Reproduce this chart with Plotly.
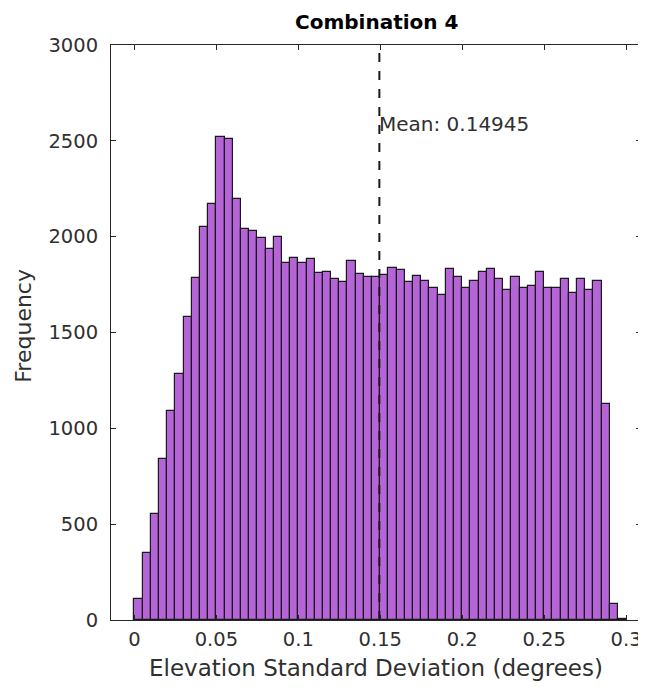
import numpy as np
import plotly.graph_objects as go

# ---- data ----
bin_width = 0.005
bin_left = np.round(np.arange(60) * bin_width, 3)
counts = [111, 351, 555, 840, 1092, 1285, 1579, 1783, 2049, 2170,
          2518, 2510, 2195, 2038, 2029, 1991, 1936, 2000, 1861, 1890,
          1861, 1882, 1809, 1816, 1779, 1762, 1873, 1807, 1790, 1788,
          1798, 1835, 1826, 1762, 1796, 1770, 1734, 1696, 1833, 1788,
          1734, 1770, 1816, 1833, 1779, 1723, 1788, 1734, 1743, 1816,
          1734, 1734, 1779, 1704, 1779, 1723, 1770, 1125, 83, 5]
mean_value = 0.14945
x_ticks = [0, 0.05, 0.1, 0.15, 0.2, 0.25, 0.3]
x_tick_labels = ["0", "0.05", "0.1", "0.15", "0.2", "0.25", "0.3"]
y_ticks = [0, 500, 1000, 1500, 2000, 2500, 3000]
y_tick_labels = ["0", "500", "1000", "1500", "2000", "2500", "3000"]
title_text = "Combination 4"
x_title = "Elevation Standard Deviation (degrees)"
y_title = "Frequency"

FONT = "DejaVu Sans, Liberation Sans, Arial, sans-serif"
AX = "#262626"
TXT = "#303030"

fig = go.Figure()
fig.add_trace(go.Bar(
    x=bin_left + bin_width / 2, y=counts, width=bin_width,
    marker=dict(color="#B565D8", line=dict(color="#1a1a1a", width=1.2)),
    showlegend=False, hoverinfo="x+y",
))

fig.add_shape(type="line", x0=mean_value, x1=mean_value, y0=0, y1=3000,
              xref="x", yref="y",
              line=dict(color="#1a1a1a", width=2, dash="dash"))
fig.add_annotation(x=mean_value, y=2590, xref="x", yref="y",
                   text=f"Mean: {mean_value}", showarrow=False,
                   xanchor="left", yanchor="middle", xshift=-2,
                   font=dict(family=FONT, size=20, color=TXT))

# axis titles and chart title placed as text
fig.add_annotation(x=0.5, y=-0.0835, xref="paper", yref="paper",
                   text=x_title, showarrow=False, xanchor="center", yanchor="middle",
                   font=dict(family=FONT, size=23, color=TXT))
fig.add_annotation(x=-0.164, y=0.512, xref="paper", yref="paper",
                   text=y_title, showarrow=False, textangle=-90,
                   xanchor="center", yanchor="middle",
                   font=dict(family=FONT, size=22, color=TXT))
fig.add_annotation(x=0.5, y=1.04, xref="paper", yref="paper",
                   text=f"<b>{title_text}</b>", showarrow=False,
                   xanchor="center", yanchor="middle",
                   font=dict(family=FONT, size=20, color="black"))

# page body adds an 8px offset, so the figure is sized 8px smaller
fig.update_layout(
    width=638, height=689,
    margin=dict(l=103, r=5, t=37, b=77),
    paper_bgcolor="white", plot_bgcolor="white",
    bargap=0,
    font=dict(family=FONT, color=TXT),
)
fig.update_xaxes(
    range=[-0.0143, 0.3091], tickvals=x_ticks, ticktext=x_tick_labels,
    ticks="inside", ticklen=5, tickcolor=AX, tickwidth=1,
    showline=True, linecolor=AX, linewidth=1, mirror="allticks",
    showgrid=False, zeroline=False, automargin=False,
    tickfont=dict(family=FONT, size=19.5, color=TXT), ticklabelstandoff=2,
)
fig.update_yaxes(
    range=[0, 3000], tickvals=y_ticks, ticktext=y_tick_labels,
    ticks="inside", ticklen=5, tickcolor=AX, tickwidth=1,
    showline=True, linecolor=AX, linewidth=1, mirror="allticks",
    showgrid=False, zeroline=False, automargin=False,
    tickfont=dict(family=FONT, size=19.5, color=TXT), ticklabelstandoff=8,
)

fig.write_html("out.html")
